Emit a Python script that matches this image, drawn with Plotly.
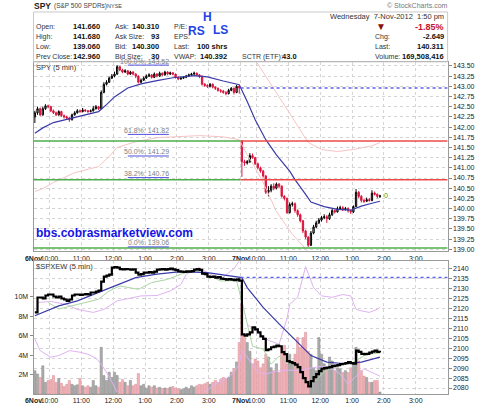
import plotly.graph_objects as go

W, H = 480, 406

# ---------------- data ----------------
day_labels = ["6Nov", "7Nov"]
hour_labels = ["10:00", "11:00", "12:00", "1:00", "2:00", "3:00"]
bars_per_day = 78

spy_first_open = 142.25
spy_day2_open = 141.66

spy_close_day1 = [142.35,142.45,142.30,142.45,142.52,142.50,142.40,
    142.35,142.30,142.38,142.28,142.25,142.22,142.18,
    142.30,142.35,142.40,142.38,142.42,142.40,142.38,142.40,142.45,142.50,142.45,
    142.85,143.05,
    143.10,143.20,143.25,143.30,
    143.48,
    143.40,143.35,143.38,143.30,143.35,143.30,143.25,
    143.10,143.15,143.20,
    143.25,143.28,143.22,143.30,143.25,143.32,143.28,143.35,143.30,143.33,143.30,143.22,
    143.18,143.20,143.22,143.25,143.28,
    143.30,143.32,143.28,143.25,
    143.05,143.02,143.00,143.05,142.98,
    142.95,142.90,142.88,142.85,142.82,142.90,
    142.95,142.85,143.00,142.96]
spy_high_day1 = [142.40,142.50,142.48,142.50,142.56,142.55,142.52,
    142.43,142.38,142.41,142.40,142.31,142.28,142.25,
    142.33,142.39,142.44,142.43,142.47,142.44,142.42,142.43,142.52,142.54,142.52,
    142.90,143.10,
    143.15,143.24,143.30,143.36,
    143.52,
    143.50,143.43,143.42,143.40,143.38,143.37,143.32,
    143.27,143.19,143.24,
    143.29,143.32,143.30,143.34,143.32,143.36,143.34,143.38,143.37,143.36,143.35,143.31,
    143.24,143.23,143.25,143.28,143.31,
    143.33,143.36,143.34,143.30,
    143.26,143.08,143.05,143.08,143.07,
    143.00,142.97,142.93,142.91,142.88,142.94,
    142.98,142.97,143.03,143.01]
spy_low_day1 = [142.10,142.30,142.27,142.28,142.42,142.46,142.37,
    142.32,142.27,142.28,142.25,142.21,142.18,142.13,
    142.16,142.28,142.33,142.35,142.36,142.37,142.35,142.36,142.38,142.43,142.42,
    142.44,142.83,
    143.02,143.08,143.18,143.22,
    143.28,
    143.37,143.32,143.33,143.27,143.28,143.27,143.20,
    143.07,143.08,143.13,
    143.18,143.23,143.19,143.20,143.22,143.23,143.25,143.26,143.27,143.28,143.27,143.19,
    143.15,143.16,143.18,143.20,143.23,
    143.26,143.28,143.25,143.20,
    143.02,142.99,142.96,142.97,142.95,
    142.91,142.87,142.84,142.82,142.78,142.80,
    142.88,142.80,142.83,142.82]

spy_close_day2 = [141.15,141.12,141.15,141.30,141.25,141.10,141.00,140.92,140.80,140.40,
    140.45,140.55,140.50,140.60,140.55,140.30,140.25,139.90,140.10,140.12,
    139.95,139.85,139.70,139.45,139.30,139.10,139.40,139.55,139.65,139.72,
    139.78,139.80,139.75,139.85,139.95,139.92,140.00,140.02,139.98,140.00,
    139.95,139.92,140.05,140.40,140.30,140.20,140.18,140.22,140.20,140.38,
    140.35,140.30,140.31]
spy_high_day2 = [141.68,141.20,141.19,141.36,141.35,141.27,141.13,141.03,140.95,140.82,
    140.55,140.60,140.62,140.64,140.63,140.57,140.33,140.27,140.15,140.17,
    140.15,139.98,139.88,139.72,139.48,139.32,139.45,139.60,139.70,139.77,
    139.82,139.86,139.84,139.90,140.00,139.98,140.05,140.07,140.06,140.04,
    140.03,139.98,140.08,140.48,140.43,140.33,140.24,140.27,140.26,140.45,
    140.42,140.37,140.34]
spy_low_day2 = [140.78,141.05,141.08,141.12,141.22,141.07,140.96,140.88,140.76,140.36,
    140.30,140.40,140.45,140.47,140.50,140.27,140.20,139.87,139.88,140.05,
    139.90,139.80,139.66,139.40,139.25,139.06,139.08,139.37,139.52,139.62,
    139.68,139.74,139.65,139.72,139.82,139.88,139.90,139.97,139.94,139.95,
    139.90,139.87,139.89,140.03,140.26,140.15,140.14,140.16,140.17,140.18,
    140.32,140.25,140.26]

# SPY moving average (blue) and envelope (pink), read at selected bars
spy_ma_bar = [0,3,7,13,18,24,27,30,35,40,46,52,60,65,71,76,77,80,83,87,91,96,98,102,104,109,114,119,123,127,130]
spy_ma_val = [141.85,141.98,142.11,142.20,142.28,142.38,142.55,142.74,142.96,143.06,143.14,143.21,143.26,143.23,143.13,143.06,143.04,142.63,142.18,141.69,141.32,140.92,140.71,140.35,140.16,140.05,139.98,139.96,140.06,140.13,140.18]
spy_upper_bar = [0,3,50,82,83,92,98,103,108,114,120,127,130]
spy_upper_val = [143.50,143.66,None,143.72,143.65,142.74,142.11,141.62,141.45,141.40,141.45,141.54,141.62]
spy_lower_bar = [0,3,7,15,24,28,31,38,46,52,62,71,77,80,83,86,91,97,103,105]
spy_lower_val = [140.42,140.49,140.64,140.88,141.03,141.28,141.50,141.64,141.74,141.76,141.79,141.76,141.69,141.32,141.00,140.64,139.93,139.37,138.95,138.80]

# $SPXEW (5 min)
spxew_day1 = [2118,2125.5,2125.5,2125,2126.5,2127,2127,2126,2125.5,2126,
    2125,2124.5,2123.8,2124.5,2126.5,2127,2127,2126.8,2127,2127.2,
    2127,2128,2128,2128.5,2129,2133.5,2136,2136.5,2137,2140.5,
    2140.8,2140.5,2139.8,2139.6,2139.8,2139.7,2139.5,2139.7,2138,2137,
    2137.2,2138,2138,2138.2,2138,2138.5,2139.5,2139.6,2139.8,2139.5,
    2139.8,2140,2139.6,2139.3,2138.6,2138.5,2138.3,2138.6,2138.5,2138.7,
    2139.5,2139.8,2139.4,2137.5,2137.2,2136,2135.8,2136,2135.5,2135.8,
    2135,2134.8,2134.5,2134.8,2134.5,2134.2,2134.6,2134]
spxew_day2 = [2107,2106.3,2107,2108,2110.5,2109.5,2108,2106,2104.7,2099,
    2099.5,2100.5,2100.8,2101.3,2101,2098,2097,2093.5,2093,2092.5,
    2091.8,2090.5,2088,2085,2083,2080.8,2083.5,2085.5,2087,2088.5,
    2089.7,2090,2090.3,2090.5,2091,2091.3,2091.5,2092,2092.2,2092.5,
    2093,2092.5,2092.3,2098.8,2098.2,2097.2,2097,2097.2,2097.8,2098.3,
    2098.8,2098.2,2097.8]
spxew_ma_bar = [0,9,16,24,30,38,46,55,65,72,78,80,86,92,98,104,110,117,123,130]
spxew_ma_val = [2116.3,2121.3,2123.8,2128.2,2131.3,2135.5,2137.2,2138.5,2138,2136.8,2135.5,2130.5,2120.5,2112.2,2104.5,2096.3,2093,2092.2,2093,2095.5]
spxew_fast_bar = [5,9,16,24,28,32,39,44,50,55,60,65,70,76,79,82,86,89,92,95,99,103,106,109,114,120,125,130]
spxew_fast_val = [2123,2119.7,2122,2124.6,2128.8,2131.3,2129.6,2133,2134.6,2137.2,2139.2,2137,2133.8,2134,2118,2101,2099.6,2092,2096,2093,2090.6,2081.5,2084,2088,2092,2093,2097,2097.6]
violet_a_bar = [1,6,12,16,22,26,31,40,46,51,55,57,62,65,70,75,77]
violet_a_val = [2123,2123.5,2122,2119.5,2118,2119.5,2123.8,2126.3,2126.5,2128.8,2132,2137.2,2140.5,2138,2134.6,2140,2143.8]
violet_b_bar = [0,2,6,9,13,17,20,23,25,28,31,48,64,68,72,75,77,78,80,84,87,91,95,99,104,108,113,115,118,121,124,128,130]
violet_b_val = [2104.6,2098.8,2095.5,2096.3,2098.8,2098,2097,2095,2092,2085.7,2078,None,2078,2082,2084.5,2088,2092,2098.6,2095.6,2088,2087,2088.5,2089,2088.8,2090,2091,2089,2087,2082,2086,2089.7,2087.2,2086]
violet_c_bar = [80,84,88,92,95,96,99,102,105,108,112,116,119,121,123,126,129,130]
violet_c_val = [2112,2108,2104,2102,2115,2122,2125.6,2141,2130.5,2126.3,2125.6,2127,2126.3,2119.6,2118.8,2118,2119.6,2120.6]

volume_day1 = [2.4,2.07,1.7,2.9,1.2,1.4,1.5,1.9,1.2,1.6,
    1.1,0.77,1.0,1.4,1.0,0.85,0.95,1.6,0.85,0.7,
    0.85,0.7,1.4,0.85,0.7,4.8,1.9,1.4,2.25,1.7,
    2.25,1.9,1.2,1.5,1.2,0.85,1.4,0.85,1.0,2.1,
    0.85,1.0,0.6,0.85,0.7,0.85,0.62,0.7,0.55,0.62,
    0.55,0.7,0.77,0.62,0.55,0.45,0.55,0.7,0.55,0.85,
    0.7,0.85,1.0,0.95,1.06,1.2,1.0,1.2,1.4,1.2,
    1.5,1.7,1.6,1.7,2.25,2.6,3.3,5.3]
volume_day2 = [9.2,5.8,5.3,4.4,3.1,3.6,3.4,2.7,3.1,4.1,
    3.8,2.7,2.4,3.1,2.2,4.8,5.0,3.1,4.1,3.4,
    4.1,5.8,4.8,5.8,6.35,4.4,4.1,2.7,2.4,5.8,
    4.1,3.1,2.7,3.8,3.4,2.4,2.7,2.6,2.2,2.4,
    2.2,2.7,3.1,4.8,3.4,2.4,1.85,1.7,1.2,1.2,
    1.4,1.4,0.2]

prev_close_spy = 142.96
prev_close_spxew = 2135.5
level_lines = [141.66, 140.71, 139.03]
fib_names = ["100.0%", "61.8%", "50.0%", "38.2%", "0.0%"]
fib_levels = [143.52, 141.82, 141.29, 140.76, 139.06]

spy_ticks = [139.00,139.25,139.50,139.75,140.00,140.25,140.50,140.75,141.00,141.25,
             141.50,141.75,142.00,142.25,142.50,142.75,143.00,143.25,143.50]
spxew_ticks = [2080,2085,2090,2095,2100,2105,2110,2115,2120,2125,2130,2135,2140]
vol_ticks = [2, 4, 6, 8, 10]
vol_tick_labels = ["2M", "4M", "6M", "8M", "10M"]

header_left = [("Open:", "141.660"), ("High:", "141.680"), ("Low:", "139.060"), ("Prev Close:", "142.960")]
header_mid = [("Ask:", "140.310"), ("Ask Size:", "93"), ("Bid:", "140.300"), ("Bid Size:", "30")]
header_3 = [("P/E:", ""), ("EPS:", ""), ("Last:", "100 shrs"), ("VWAP:", "140.392")]
header_right = [("Chg:", "-2.649"), ("Last:", "140.311"), ("Volume:", "169,508,416")]

# ---------------- derived ----------------
spy_close = spy_close_day1 + spy_close_day2
spy_high = spy_high_day1 + spy_high_day2
spy_low = spy_low_day1 + spy_low_day2
spy_open = [spy_first_open] + spy_close[:-1]
spy_open[len(spy_close_day1)] = spy_day2_open
bars = list(range(len(spy_close)))
spxew = spxew_day1 + spxew_day2
volume = volume_day1 + volume_day2
up = [c >= o for o, c in zip(spy_open, spy_close)]

FONT = "Liberation Sans, Arial, sans-serif"
xr = [-0.5, 2 * bars_per_day - 0.5]
tickvals, ticktext = [], []
for d, lab in enumerate(day_labels):
    base = d * bars_per_day - 0.5
    tickvals.append(base)
    ticktext.append("<b>%s</b>" % lab)
    for k, h in enumerate(hour_labels):
        tickvals.append(base + 6 + 12 * k)
        ticktext.append(h)

def py(y):
    return 1 - y / H

def px(x):
    return x / W

X0, X1 = px(25), px(447)
fig = go.Figure()

# volume (lower panel, left axis)
fig.add_trace(go.Bar(
    x=bars, y=volume, xaxis="x2", yaxis="y2", width=0.85,
    marker=dict(color=["#acacac" if u else "#f0b2b8" for u in up],
                line=dict(color=["#8a8a8a" if u else "#dd9098" for u in up], width=0.5)),
    showlegend=False, hoverinfo="skip"))

# lower panel lines
for bx, by, col, wd in [(violet_a_bar, violet_a_val, "#dfb3f2", 1),
                        (violet_b_bar, violet_b_val, "#dfb3f2", 1),
                        (violet_c_bar, violet_c_val, "#dfb3f2", 1),
                        (spxew_fast_bar, spxew_fast_val, "#a9d6a0", 1),
                        (spxew_ma_bar, spxew_ma_val, "#3a3aa8", 1.2)]:
    fig.add_trace(go.Scatter(x=bx, y=by, xaxis="x2", yaxis="y3", mode="lines",
                             line=dict(color=col, width=wd), connectgaps=False,
                             showlegend=False, hoverinfo="skip"))
fig.add_trace(go.Scatter(x=bars, y=spxew, xaxis="x2", yaxis="y3", mode="lines",
                         line=dict(color="black", width=2.2, shape="hv"),
                         showlegend=False, hoverinfo="skip"))

# upper panel
for bx, by in [(spy_upper_bar, spy_upper_val), (spy_lower_bar, spy_lower_val)]:
    fig.add_trace(go.Scatter(x=bx, y=by, mode="lines", line=dict(color="#f5c4c4", width=1),
                             connectgaps=False, showlegend=False, hoverinfo="skip"))
fig.add_trace(go.Candlestick(
    x=bars, open=spy_open, high=spy_high, low=spy_low, close=spy_close,
    increasing=dict(line=dict(color="black", width=1), fillcolor="#c4c4c4"),
    decreasing=dict(line=dict(color="#dc143c", width=1), fillcolor="#dc143c"),
    whiskerwidth=0, showlegend=False, hoverinfo="skip"))
fig.add_trace(go.Scatter(x=spy_ma_bar, y=spy_ma_val, mode="lines",
                         line=dict(color="#3a3aa8", width=1.2), showlegend=False, hoverinfo="skip"))

shapes = []
day_split = bars_per_day - 0.5
# horizontal level lines (green on day 1, red/green on day 2)
day2_cols = ["#ee4a4a", "#ee4a4a", "#4caf4c"]
for lv, c2 in zip(level_lines, day2_cols):
    shapes.append(dict(type="line", xref="x", yref="y", x0=xr[0], x1=day_split, y0=lv, y1=lv,
                       line=dict(color="#4caf4c", width=1.5)))
    shapes.append(dict(type="line", xref="x", yref="y", x0=day_split, x1=xr[1], y0=lv, y1=lv,
                       line=dict(color=c2, width=1.5)))
shapes.append(dict(type="line", xref="x", yref="y", x0=day_split, x1=xr[1], y0=prev_close_spy,
                   y1=prev_close_spy, line=dict(color="#6060f0", width=1.5, dash="dot")))
shapes.append(dict(type="line", xref="x2", yref="y3", x0=day_split, x1=xr[1], y0=prev_close_spxew,
                   y1=prev_close_spxew, line=dict(color="#6060f0", width=1.5, dash="dot")))
for lv in fib_levels:
    shapes.append(dict(type="line", xref="x", yref="y", x0=35.0, x1=50.5, y0=lv, y1=lv,
                       line=dict(color="#5050e0", width=1)))
# header box
shapes.append(dict(type="rect", xref="paper", yref="paper", x0=X0, x1=X1, y0=py(62), y1=py(12),
                   line=dict(color="#c8c8c8", width=1)))

ann = []
def T(x, y, text, size=7, color="#333333", bold=False, anchor="left"):
    ann.append(dict(xref="paper", yref="paper", x=px(x), y=py(y), showarrow=False,
                    text=("<b>%s</b>" % text) if bold else text, xanchor=anchor, yanchor="middle",
                    font=dict(size=size, color=color, family=FONT), borderpad=0))

T(24, 6, "SPY", size=8.5, color="#222", bold=True)
T(45, 6.5, "(S&P 500 SPDRs)", size=6.5, color="#444")
T(99, 6.5, "NYSE", size=5.5, color="#444")
T(448, 6, "© StockCharts.com", size=7, color="#777", anchor="right")
rows = [26.7, 36.7, 46.7, 56.7]
for (l, v), y in zip(header_left, rows):
    T(27, y, l)
    T(94, y, v, size=7.5, color="#111", bold=True, anchor="right")
for (l, v), y in zip(header_mid, rows):
    T(107, y, l)
    T(154, y, v, size=7.5, color="#111", bold=True, anchor="right")
for (l, v), y in zip(header_3, rows):
    T(167, y, l)
    if v:
        T(223, y, v, size=7.5, color="#111", bold=True, anchor="right")
T(236, 56.7, "SCTR (ETF):")
T(277, 56.7, "43.0", size=7.5, color="#111", bold=True)
T(444, 16.7, "Wednesday  7-Nov-2012  1:50 pm", size=7.5, color="#333", anchor="right")
T(379, 26.5, "▼", size=10, color="#8b1010", anchor="center")
T(444, 27, "-1.85%", size=9, color="#c8102e", bold=True, anchor="right")
for (l, v), y in zip(header_right, rows[1:]):
    T(372, y, l)
    T(444, y, v, size=7.5, color="#111", bold=True, anchor="right")
T(202.5, 17.5, "H", size=12, color="#2244e6", bold=True, anchor="center")
T(191, 31, "RS", size=12, color="#2244e6", bold=True, anchor="center")
T(215.5, 30, "LS", size=12, color="#2244e6", bold=True, anchor="center")
T(27, 68, "SPY (5 min)", size=7.5, color="#333")
T(27, 267, "$SPXEW (5 min)", size=7.5, color="#333")
T(26, 233.5, "bbs.cobrasmarketview.com", size=12, color="#1414e6", bold=True)
for nm, lv in zip(fib_names, fib_levels):
    ann.append(dict(xref="x", yref="y", x=50.8, y=lv, showarrow=False, text="%s: %.2f" % (nm, lv),
                    xanchor="right", yanchor="bottom", yshift=-0.5,
                    font=dict(size=7, color="#808080", family=FONT), borderpad=0))
ann.append(dict(xref="x", yref="y", x=bars[-1] + 0.8, y=spy_close[-1], showarrow=False, text="0",
                xanchor="left", yanchor="middle", font=dict(size=7, color="#22aa22", family=FONT)))

grid = dict(showgrid=True, gridcolor="#d4d4d4", griddash="dot", gridwidth=1, zeroline=False)
frame = dict(showline=True, mirror=True, linecolor="#9a9a9a", linewidth=1)
tickf = dict(size=7, color="#222", family=FONT)

fig.update_layout(
    width=W, height=H, autosize=False, margin=dict(l=0, r=0, t=0, b=0),
    paper_bgcolor="white", plot_bgcolor="white", showlegend=False, hovermode=False,
    xaxis=dict(domain=[X0, X1], range=xr, anchor="y", tickvals=tickvals, ticktext=ticktext,
               tickangle=0, tickfont=tickf, ticks="", rangeslider=dict(visible=False), **grid, **frame),
    yaxis=dict(domain=[py(252), py(62)], range=[138.95, 143.6], side="right", anchor="x",
               tickvals=spy_ticks, ticktext=["%.2f" % v for v in spy_ticks], tickfont=tickf,
               ticks="outside", ticklen=3, tickcolor="#888", **grid, **frame),
    xaxis2=dict(domain=[X0, X1], range=xr, anchor="y2", tickvals=tickvals, ticktext=ticktext,
                tickangle=0, tickfont=tickf, ticks="", rangeslider=dict(visible=False), **grid, **frame),
    yaxis2=dict(domain=[py(395), py(262)], range=[0, 13.64], side="left", anchor="x2",
                tickvals=vol_ticks, ticktext=vol_tick_labels, tickfont=tickf, showgrid=False,
                zeroline=False, ticks="outside", ticklen=3, tickcolor="#888", **frame),
    yaxis3=dict(range=[2076.99, 2143.66], overlaying="y2", side="right", anchor="x2",
                tickvals=spxew_ticks, ticktext=[str(v) for v in spxew_ticks], tickfont=tickf,
                ticks="outside", ticklen=3, tickcolor="#888", **grid),
    shapes=shapes, annotations=ann,
)

fig.write_html("out.html", config={"displayModeBar": False, "staticPlot": True},
               post_script="document.body.style.margin='0px';")
